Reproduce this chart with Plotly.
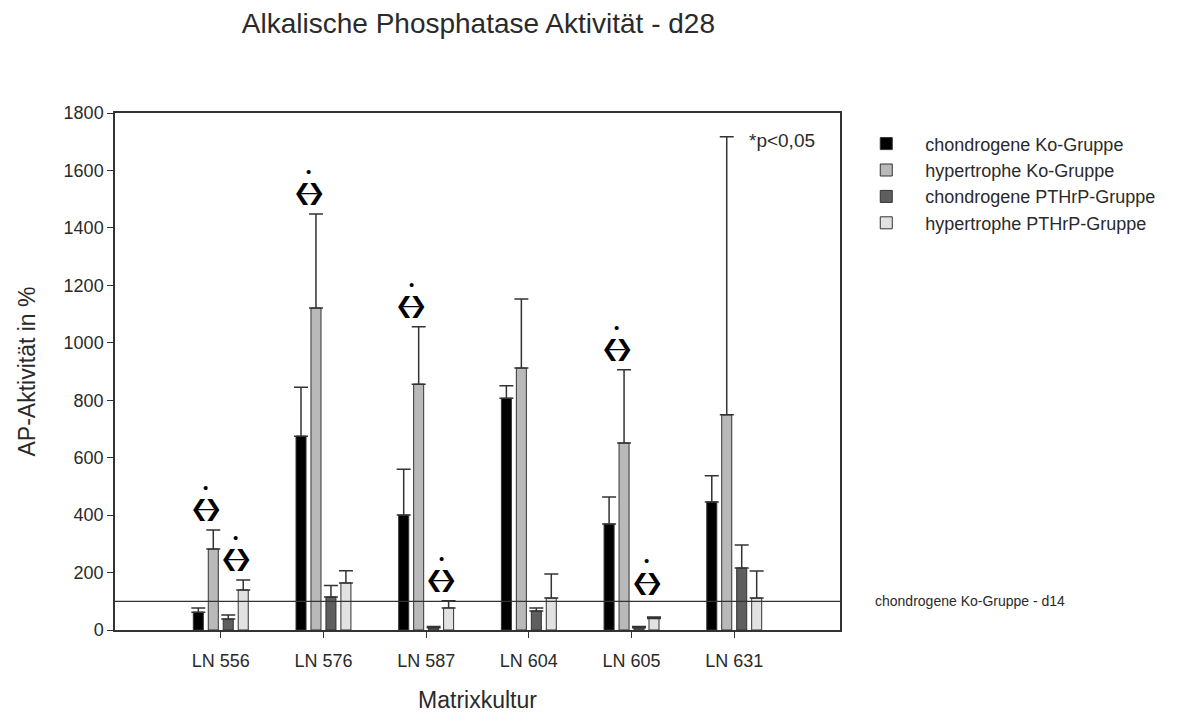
import plotly.graph_objects as go

categories = ["LN 556", "LN 576", "LN 587", "LN 604", "LN 605", "LN 631"]

series_names = [
    "chondrogene Ko-Gruppe",
    "hypertrophe Ko-Gruppe",
    "chondrogene PTHrP-Gruppe",
    "hypertrophe PTHrP-Gruppe",
]
chondro_ko = [62, 675, 400, 807, 369, 446]
chondro_ko_err = [15, 170, 160, 43, 94, 91]
hyper_ko = [282, 1121, 856, 912, 651, 749]
hyper_ko_err = [66, 327, 200, 240, 255, 968]
chondro_pthrp = [38, 115, 8, 66, 8, 216]
chondro_pthrp_err = [14, 40, 4, 11, 4, 80]
hyper_pthrp = [139, 164, 77, 111, 40, 111]
hyper_pthrp_err = [35, 42, 25, 84, 5, 94]

reference_d14 = 100

# significant comparisons: (category index, pair) ; pair 0 = Ko groups, pair 1 = PTHrP groups
significant = [(0, 0), (0, 1), (1, 0), (2, 0), (2, 1), (4, 0), (4, 1)]

colors = ["#000000", "#b9b9b9", "#5e5e5e", "#e2e2e2"]
values = [chondro_ko, hyper_ko, chondro_pthrp, hyper_pthrp]
errors = [chondro_ko_err, hyper_ko_err, chondro_pthrp_err, hyper_pthrp_err]

FONT = "Arial, 'Liberation Sans', sans-serif"
SYM_FONT = "'DejaVu Sans', sans-serif"
TXT = "#2a2a2a"

fig = go.Figure()
for i, (name, v, e, c) in enumerate(zip(series_names, values, errors, colors)):
    fig.add_trace(go.Bar(
        x=categories, y=v, name=name, legendgroup=f"g{i}",
        marker=dict(color=c, line=dict(color="#333333", width=1)),
        error_y=dict(type="data", array=e, arrayminus=[0] * len(e), symmetric=False,
                     color="#333333", thickness=1.5, width=7),
    ))

fig.add_shape(type="line", xref="paper", x0=0, x1=1, yref="y", y0=reference_d14, y1=reference_d14,
              line=dict(color="#333333", width=1.2))

bargap = 0.417
slot = (1 - bargap) / 4
annotations = []
for ci, pair in significant:
    a = values[2 * pair][ci] + errors[2 * pair][ci]
    b = values[2 * pair + 1][ci] + errors[2 * pair + 1][ci]
    ytop = max(a, b)
    y_arrow = max(ytop + 72, 165)
    xpos = ci + (-slot if pair == 0 else slot)
    common = dict(x=xpos, y=y_arrow, xref="x", yref="y", showarrow=False,
                  xanchor="center", yanchor="middle")
    annotations.append(dict(common, text="❮", xshift=-7, yshift=0,
                            font=dict(family=SYM_FONT, size=22, color="#000")))
    annotations.append(dict(common, text="❯", xshift=7, yshift=0,
                            font=dict(family=SYM_FONT, size=22, color="#000")))
    annotations.append(dict(common, text="—", xshift=0, yshift=1,
                            font=dict(family=FONT, size=16, color="#000")))
    annotations.append(dict(common, text="•", xshift=0, yshift=22,
                            font=dict(family=FONT, size=15, color="#000")))

annotations.append(dict(x=0.872, y=1706, xref="paper", yref="y", text="*p&lt;0,05", showarrow=False,
                        font=dict(family=FONT, size=19, color=TXT), xanchor="left", yanchor="middle"))
annotations.append(dict(x=1.046, y=reference_d14, xref="paper", yref="y", text="chondrogene Ko-Gruppe - d14",
                        showarrow=False, font=dict(family=FONT, size=14, color=TXT),
                        xanchor="left", yanchor="middle"))

fig.update_layout(
    width=1196, height=714,
    margin=dict(l=115, r=356, t=113, b=84),
    paper_bgcolor="white", plot_bgcolor="white",
    barmode="group", bargap=bargap, bargroupgap=0.33,
    font=dict(family=FONT, color=TXT, size=14),
    title=dict(text="Alkalische Phosphatase Aktivität - d28", x=0.4, xanchor="center",
               y=0.968, yanchor="middle", font=dict(family=FONT, size=28, color=TXT)),
    legend=dict(x=1.01, y=0.976, xanchor="left", yanchor="top", tracegroupgap=0, itemwidth=68,
                font=dict(family=FONT, size=18, color=TXT), bgcolor="rgba(0,0,0,0)"),
    annotations=annotations,
    showlegend=True,
)
fig.update_xaxes(range=[-1.03, 6.03], showline=True, mirror=True, linecolor="#333333", linewidth=1.5,
                 ticks="outside", ticklen=6, tickcolor="#333333", showgrid=False, ticklabelstandoff=8,
                 automargin=False,
                 title=dict(text="Matrixkultur", font=dict(family=FONT, size=23, color=TXT), standoff=22),
                 tickfont=dict(family=FONT, size=18, color=TXT))
fig.update_yaxes(range=[0, 1800], dtick=200, showline=True, mirror=True, linecolor="#333333", linewidth=1.5,
                 ticks="outside", ticklen=6, tickcolor="#333333", showgrid=False, zeroline=False,
                 automargin=False,
                 title=dict(text="AP-Aktivität in %", font=dict(family=FONT, size=23, color=TXT), standoff=22),
                 tickfont=dict(family=FONT, size=18, color=TXT))

fig.write_html("out.html")
